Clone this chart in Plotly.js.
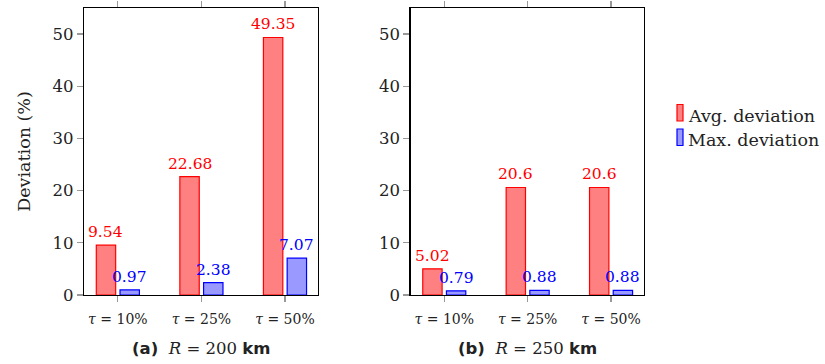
<!DOCTYPE html>
<html><head><meta charset="utf-8">
<script src="https://cdn.plot.ly/plotly-3.0.1.min.js"></script>
<style>body{margin:0;background:#fff}#c{width:825px;height:364px}</style>
</head><body><div id="c"></div>
<script>
const categories = ["τ = 10%", "τ = 25%", "τ = 50%"];
const tickLabels = ["<i>τ</i> = 10%", "<i>τ</i> = 25%", "<i>τ</i> = 50%"];
const avgA = [9.54, 22.68, 49.35];
const maxA = [0.97, 2.38, 7.07];
const avgB = [5.02, 20.6, 20.6];
const maxB = [0.79, 0.88, 0.88];
const seriesNames = ["Avg. deviation", "Max. deviation"];
const panelTitles = ["(a)", "(b)"];
const panelR = ["200", "250"];

const SERIF = "DejaVu Serif";
const SANS = "DejaVu Sans";
const RED = "#ff0000", REDF = "rgba(255,128,128,1)";
const BLUE = "#0000ff", BLUEF = "rgba(153,153,255,1)";
const xIdx = [0, 1, 2];
const BW = 0.232, OFF_R = -0.258, OFF_B = 0.026;

function bars(vals, name, fill, line, off, xa, ya) {
  return {
    type: "bar", x: xIdx, y: vals, name: name, xaxis: xa, yaxis: ya,
    width: BW, offset: off,
    marker: {color: fill, line: {color: line, width: 1.2}},
    showlegend: false, hoverinfo: "skip"
  };
}
function labels(vals, color, off, xa, ya) {
  return vals.map((v, i) => ({
    xref: xa, yref: ya, x: xIdx[i] + off + BW / 2, y: v, text: String(v),
    showarrow: false, xanchor: "center", yanchor: "bottom", yshift: 2,
    font: {family: SERIF, size: 15.5, color: color}
  }));
}

const data = [
  bars(avgA, seriesNames[0], REDF, RED, OFF_R, "x", "y"),
  bars(maxA, seriesNames[1], BLUEF, BLUE, OFF_B, "x", "y"),
  bars(avgB, seriesNames[0], REDF, RED, OFF_R, "x2", "y2"),
  bars(maxB, seriesNames[1], BLUEF, BLUE, OFF_B, "x2", "y2")
];

function xax(domain, anchor) {
  return {
    domain: domain, anchor: anchor, range: [-0.405, 2.395],
    tickmode: "array", tickvals: xIdx, ticktext: tickLabels,
    ticks: "outside", ticklen: 6, tickwidth: 1.2, tickcolor: "#999",
    ticklabelstandoff: 5,
    showline: true, linecolor: "#000", linewidth: 1.3, mirror: "ticks",
    showgrid: false, zeroline: false, fixedrange: true,
    tickfont: {family: SERIF, size: 14, color: "#222"}
  };
}
function yax(anchor, showTitle) {
  const o = {
    domain: [0.1896, 0.978], anchor: anchor, range: [0, 55],
    tickmode: "array", tickvals: [0, 10, 20, 30, 40, 50],
    ticks: "outside", ticklen: 6, tickwidth: 1.2, tickcolor: "#999",
    showline: true, linecolor: "#000", linewidth: 1.3, mirror: true,
    showgrid: false, zeroline: false, fixedrange: true,
    tickfont: {family: SERIF, size: 16.5, color: "#222"}
  };
  if (showTitle) o.title = {text: "Deviation (%)", font: {family: SERIF, size: 17.5, color: "#222"}, standoff: 17};
  return o;
}

function subTitle(i) {
  return '<span style="font-family:' + SANS + ';font-weight:bold">' + panelTitles[i] + '</span>  ' +
    '<i>R</i> = ' + panelR[i] + ' <span style="font-family:' + SANS + ';font-weight:bold">km</span>';
}

const layout = {
  width: 825, height: 364, margin: {l: 0, r: 0, t: 0, b: 0},
  paper_bgcolor: "#fff", plot_bgcolor: "#fff",
  barmode: "overlay", showlegend: false,
  xaxis: xax([84 / 825, 318 / 825], "y"),
  yaxis: yax("x", true),
  xaxis2: xax([410.5 / 825, 644 / 825], "y2"),
  yaxis2: yax("x2", false),
  annotations: [
    {xref: "paper", yref: "paper", x: 201 / 825, y: 1 - 348 / 364, text: subTitle(0), showarrow: false,
     xanchor: "center", yanchor: "middle", font: {family: SERIF, size: 16.5, color: "#222"}},
    {xref: "paper", yref: "paper", x: 527 / 825, y: 1 - 348 / 364, text: subTitle(1), showarrow: false,
     xanchor: "center", yanchor: "middle", font: {family: SERIF, size: 16.5, color: "#222"}},
    {xref: "paper", yref: "paper", x: 686 / 825, y: 1 - 116 / 364, text: seriesNames[0], showarrow: false,
     xanchor: "left", yanchor: "middle", font: {family: SERIF, size: 17.5, color: "#222"}},
    {xref: "paper", yref: "paper", x: 686 / 825, y: 1 - 140 / 364, text: seriesNames[1], showarrow: false,
     xanchor: "left", yanchor: "middle", font: {family: SERIF, size: 17.5, color: "#222"}}
  ].concat(labels(avgA, RED, OFF_R, "x", "y"), labels(maxA, BLUE, OFF_B, "x", "y"),
           labels(avgB, RED, OFF_R, "x2", "y2"), labels(maxB, BLUE, OFF_B, "x2", "y2")),
  shapes: [
    {type: "rect", xref: "paper", yref: "paper", x0: 677 / 825, x1: 683 / 825, y0: 1 - 121 / 364, y1: 1 - 104.5 / 364,
     fillcolor: REDF, line: {color: RED, width: 1.2}},
    {type: "rect", xref: "paper", yref: "paper", x0: 677 / 825, x1: 683 / 825, y0: 1 - 145.5 / 364, y1: 1 - 129 / 364,
     fillcolor: BLUEF, line: {color: BLUE, width: 1.2}}
  ]
};

Plotly.newPlot("c", data, layout, {displayModeBar: false, staticPlot: true});
</script></body></html>
